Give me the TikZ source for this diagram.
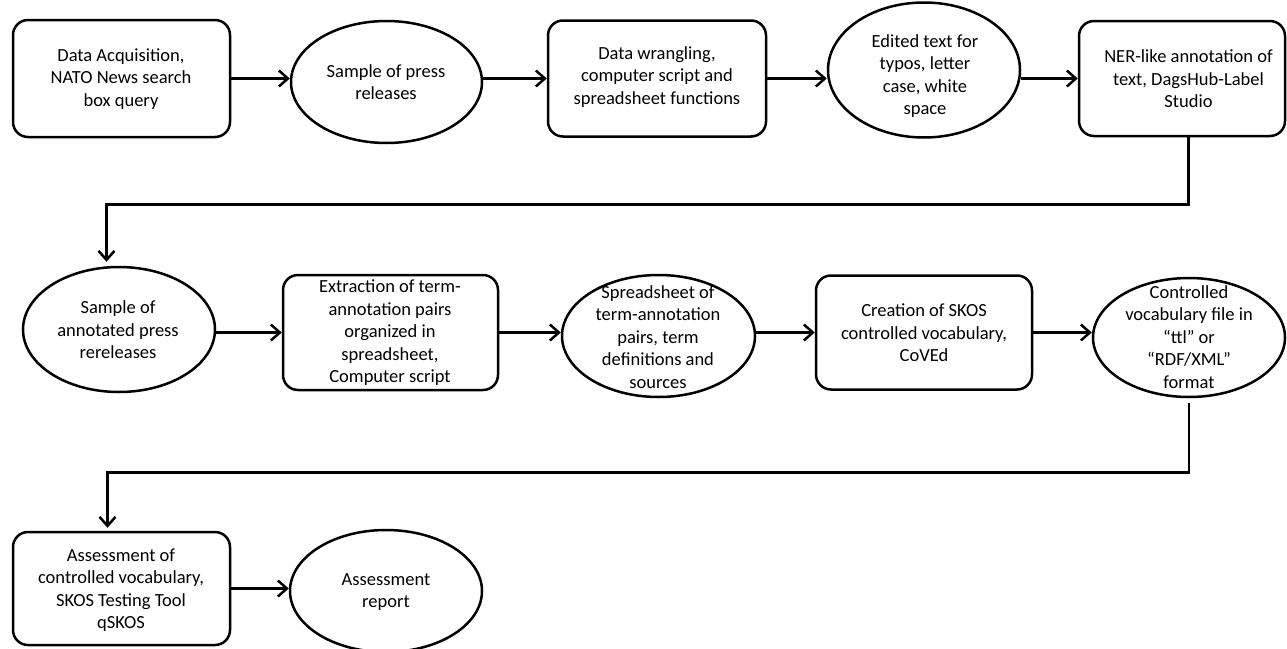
\documentclass[tikz,border=0pt]{standalone}
\usepackage{fontspec}
\setmainfont{Carlito}
\usetikzlibrary{shapes.geometric,arrows.meta}
\tikzset{
  rbox/.style={draw, line width=2.5pt, rounded corners=15pt, inner sep=0pt},
  ell/.style={draw, ellipse, line width=2.5pt, inner sep=0pt},
  txt/.style={align=center, font=\fontsize{18.5}{22.5}\selectfont, inner sep=0pt},
  arr/.style={line width=2.5pt, -{Straight Barb[length=9pt,width=16pt]}},
}
\begin{document}
\begin{tikzpicture}[x=1pt,y=-1pt]
\useasboundingbox (0,0) rectangle (1287,648);
% Row 1
\node[rbox, minimum width=217pt, minimum height=117pt] (A) at (121.5,78.5) {};
\node[txt] (At) at (121,79) {Data Acquisition,\\NATO News search\\box query};
\node[ell, minimum width=191pt, minimum height=122pt] (B) at (386.5,82) {};
\node[txt] (Bt) at (386,82) {Sample of press\\releases};
\node[rbox, minimum width=218pt, minimum height=116pt] (C) at (657,78.5) {};
\node[txt] (Ct) at (657,77) {Data wrangling,\\computer script and\\spreadsheet functions};
\node[ell, minimum width=192pt, minimum height=135pt] (D) at (924,70) {};
\node[txt] (Dt) at (925,76) {Edited text for\\typos, letter\\case, white\\space};
\node[rbox, minimum width=206pt, minimum height=115pt] (E) at (1182,78.5) {};
\node[txt] (Et) at (1188.5,79) {NER-like annotation of\\text, DagsHub-Label\\Studio};
% Row 2
\node[ell, minimum width=192pt, minimum height=125pt] (F) at (119,329.5) {};
\node[txt] (Ft) at (118,330) {Sample of\\annotated press\\rereleases};
\node[rbox, minimum width=215pt, minimum height=115pt] (G) at (390.5,332.5) {};
\node[txt] (Gt) at (390,333) {Extraction of term-\\annotation pairs\\organized in\\spreadsheet,\\Computer script};
\node[ell, minimum width=193pt, minimum height=122pt] (H) at (658.5,336) {};
\node[txt] (Ht) at (658,337) {Spreadsheet of\\term-annotation\\pairs, term\\definitions and\\sources};
\node[rbox, minimum width=216pt, minimum height=114pt] (I) at (924,332.5) {};
\node[txt] (It) at (924,333) {Creation of SKOS\\controlled vocabulary,\\CoVEd};
\node[ell, minimum width=192pt, minimum height=119pt] (J) at (1189,337.5) {};
\node[txt] (Jt) at (1189,337) {Controlled\\vocabulary file in\\“ttl” or\\“RDF/XML”\\format};
% Row 3
\node[rbox, minimum width=217pt, minimum height=113pt] (K) at (121.5,588.5) {};
\node[txt] (Kt) at (121,590) {Assessment of\\controlled vocabulary,\\SKOS Testing Tool\\qSKOS};
\node[ell, minimum width=192pt, minimum height=122pt] (L) at (386,591) {};
\node[txt] (Lt) at (386,592) {Assessment\\report};
% Arrows
\draw[arr] (A.east) -- (A.east -| B.west);
\draw[arr] (B.east |- C.west) -- (C.west);
\draw[arr] (C.east) -- (C.east -| D.west);
\draw[arr] (D.east |- E.west) -- (E.west);
\draw[arr] (F.east |- G.west) -- (G.west);
\draw[arr] (G.east) -- (G.east -| H.west);
\draw[arr] (H.east |- I.west) -- (I.west);
\draw[arr] (I.east) -- (I.east -| J.west);
\draw[arr] (K.east) -- (K.east -| L.west);
% Row connectors
\coordinate (c1) at (106.5,204.5);
\draw[arr, shorten >=4pt] (Et |- E.south) |- (c1) -- (c1 |- F.north);
\coordinate (c2) at (107.5,472.5);
\draw[arr, shorten >=3pt] ([yshift=-5pt]J.south) |- (c2) -- (c2 |- K.north);
\end{tikzpicture}
\end{document}
